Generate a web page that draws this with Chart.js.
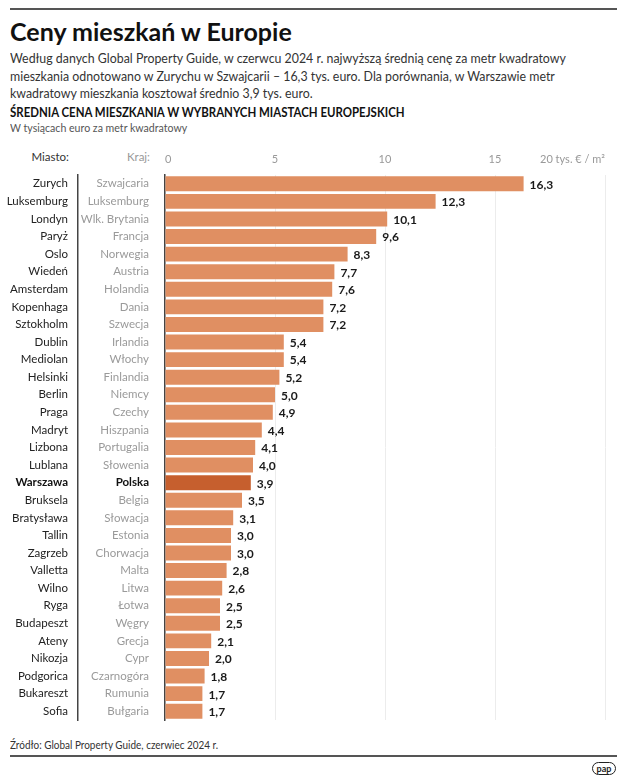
<!DOCTYPE html>
<html lang="pl">
<head>
<meta charset="UTF-8">
<title>Ceny mieszkań w Europie</title>
<script src="https://cdn.jsdelivr.net/npm/chart.js"></script>
<style>
    body {
        margin: 0;
        width: 625px;
        height: 781px;
        position: relative;
        background: #fff;
        font-family: Lato, Roboto, sans-serif;
        color: #222;
        overflow: hidden;
    }
    .rule {
        position: absolute;
        left: 10px;
        width: 607px;
        height: 2px;
        background: #555;
    }
    .txt {
        position: absolute;
        left: 10px;
        white-space: nowrap;
        transform-origin: left top;
    }
    h1 {
        position: absolute;
        left: 10px;
        top: 16px;
        margin: 0;
        font-size: 25px;
        font-weight: bold;
        color: #111;
    }
    #lead {
        top: 49px;
        font-size: 14px;
        line-height: 17.5px;
        color: #333;
        transform: scaleX(0.883);
    }
    #chartTitle {
        top: 105px;
        font-size: 12.5px;
        font-weight: bold;
        color: #111;
        transform: scaleX(0.916);
    }
    #unit {
        top: 121px;
        font-size: 11.5px;
        color: #555;
        transform: scaleX(0.92);
    }
    .head {
        position: absolute;
        top: 150px;
        font-size: 11.5px;
        text-align: right;
    }
    #chartBox {
        position: absolute;
        left: 0;
        top: 147px;
    }
    #source {
        top: 737px;
        font-size: 12px;
        color: #333;
        transform: scaleX(0.83);
    }
    #logo {
        position: absolute;
        left: 592px;
        top: 762px;
        width: 22px;
        height: 11px;
        border: 1.5px solid #222;
        border-radius: 7px;
        font-size: 9px;
        font-weight: bold;
        line-height: 11px;
        text-align: center;
    }
</style>
</head>
<body>
<div class="rule" style="top:8px"></div>
<h1>Ceny mieszkań w Europie</h1>
<div class="txt" id="lead">Według danych Global Property Guide, w czerwcu 2024 r. najwyższą średnią cenę za metr kwadratowy<br>mieszkania odnotowano w Zurychu w Szwajcarii – 16,3 tys. euro. Dla porównania, w Warszawie metr<br>kwadratowy mieszkania kosztował średnio 3,9 tys. euro.</div>
<div class="txt" id="chartTitle">ŚREDNIA CENA MIESZKANIA W WYBRANYCH MIASTACH EUROPEJSKICH</div>
<div class="txt" id="unit">W tysiącach euro za metr kwadratowy</div>
<div class="head" style="left:0;width:69px;color:#333">Miasto:</div>
<div class="head" style="left:80px;width:70px;color:#999">Kraj:</div>

<div id="chartBox"><canvas id="chart" width="625" height="575"></canvas></div>

<div class="txt" id="source">Źródło: Global Property Guide, czerwiec 2024 r.</div>
<div class="rule" style="top:755px"></div>
<div id="logo">pap</div>

<script>
    const cities = ['Zurych', 'Luksemburg', 'Londyn', 'Paryż', 'Oslo', 'Wiedeń', 'Amsterdam', 'Kopenhaga',
        'Sztokholm', 'Dublin', 'Mediolan', 'Helsinki', 'Berlin', 'Praga', 'Madryt', 'Lizbona', 'Lublana',
        'Warszawa', 'Bruksela', 'Bratysława', 'Tallin', 'Zagrzeb', 'Valletta', 'Wilno', 'Ryga', 'Budapeszt',
        'Ateny', 'Nikozja', 'Podgorica', 'Bukareszt', 'Sofia'];
    const countries = ['Szwajcaria', 'Luksemburg', 'Wlk. Brytania', 'Francja', 'Norwegia', 'Austria', 'Holandia',
        'Dania', 'Szwecja', 'Irlandia', 'Włochy', 'Finlandia', 'Niemcy', 'Czechy', 'Hiszpania', 'Portugalia',
        'Słowenia', 'Polska', 'Belgia', 'Słowacja', 'Estonia', 'Chorwacja', 'Malta', 'Litwa', 'Łotwa', 'Węgry',
        'Grecja', 'Cypr', 'Czarnogóra', 'Rumunia', 'Bułgaria'];
    const prices = [16.3, 12.3, 10.1, 9.6, 8.3, 7.7, 7.6, 7.2, 7.2, 5.4, 5.4, 5.2, 5.0, 4.9, 4.4, 4.1, 4.0,
        3.9, 3.5, 3.1, 3.0, 3.0, 2.8, 2.6, 2.5, 2.5, 2.1, 2.0, 1.8, 1.7, 1.7];
    const xTicks = [0, 5, 10, 15, 20];
    const highlight = 'Warszawa';

    const FONT = 'Lato, Roboto, sans-serif';
    const hi = cities.indexOf(highlight);

    // wartości na końcach słupków
    const valueLabels = {
        id: 'valueLabels',
        afterDatasetsDraw(chart) {
            const ctx = chart.ctx;
            const meta = chart.getDatasetMeta(0);
            ctx.save();
            ctx.font = 'bold 12px ' + FONT;
            ctx.fillStyle = '#1a1a1a';
            ctx.textAlign = 'left';
            ctx.textBaseline = 'middle';
            meta.data.forEach((bar, i) => {
                ctx.fillText(prices[i].toFixed(1).replace('.', ','), bar.x + 6, bar.y + 1);
            });
            ctx.restore();
        }
    };

    // stała szerokość osi, bez dodatkowego marginesu góra/dół
    const fixAxis = w => s => {
        s.width = w;
        s.paddingTop = 0;
        s.paddingBottom = 0;
    };

    new Chart(document.getElementById('chart'), {
        type: 'bar',
        data: {
            labels: countries,
            datasets: [{
                data: prices,
                backgroundColor: cities.map((c, i) => i === hi ? '#C65F2E' : '#E08F62'),
                barPercentage: 0.85,
                categoryPercentage: 1
            }]
        },
        options: {
            indexAxis: 'y',
            responsive: false,
            animation: false,
            layout: { padding: { right: 20, bottom: 2 } },
            plugins: {
                legend: { display: false },
                tooltip: { enabled: false }
            },
            scales: {
                x: {
                    position: 'top',
                    min: 0,
                    max: 20,
                    afterBuildTicks: s => { s.ticks = xTicks.map(v => ({ value: v })); },
                    afterFit: s => { s.height = 28; },
                    grid: { color: '#ececec', drawTicks: false },
                    border: { display: false },
                    ticks: {
                        align: 'inner',
                        padding: 9,
                        color: '#999',
                        font: { family: FONT, size: 11 },
                        callback: v => v === 20 ? '20 tys. € / m²' : v
                    }
                },
                y: {
                    type: 'category',
                    position: 'left',
                    weight: 0,
                    offset: true,
                    afterFit: fixAxis(87),
                    grid: { display: false, drawTicks: false },
                    border: { display: true, color: '#444', width: 1.5 },
                    ticks: {
                        autoSkip: false,
                        padding: 16,
                        color: c => c.index === hi ? '#111' : '#9a9a9a',
                        font: c => ({ family: FONT, size: 11.5, weight: c.index === hi ? 'bold' : 'normal' })
                    }
                },
                cityAxis: {
                    type: 'category',
                    axis: 'y',
                    labels: cities,
                    position: 'left',
                    weight: 1,
                    offset: true,
                    afterFit: fixAxis(78),
                    grid: { display: false, drawTicks: false },
                    border: { display: true, color: '#444', width: 1.5 },
                    ticks: {
                        autoSkip: false,
                        padding: 10,
                        color: c => c.index === hi ? '#111' : '#222',
                        font: c => ({ family: FONT, size: 11.5, weight: c.index === hi ? 'bold' : 'normal' })
                    }
                }
            }
        },
        plugins: [valueLabels]
    });
</script>
</body>
</html>
